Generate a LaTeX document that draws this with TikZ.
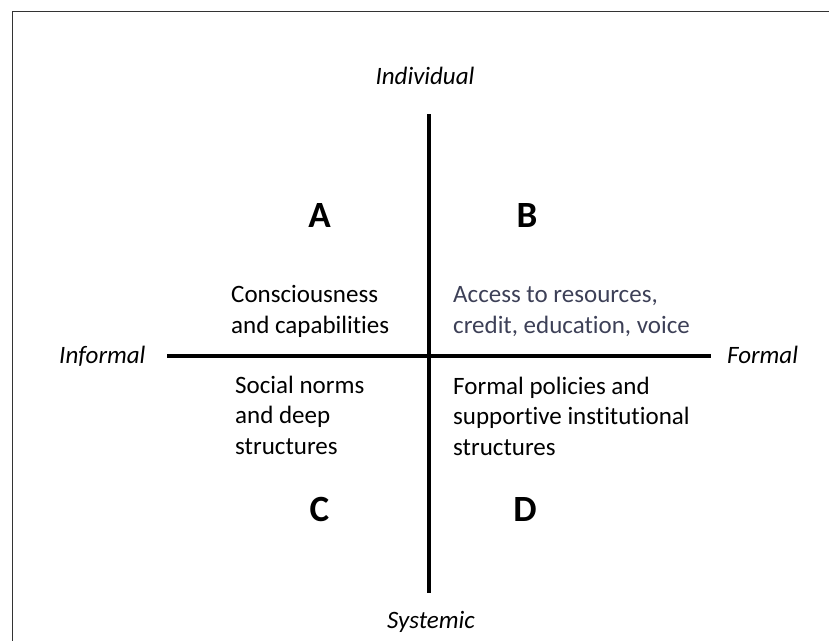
\documentclass[tikz,border=0pt]{standalone}
\usepackage{fontspec}
\setmainfont{Carlito}[Ligatures={NoCommon,NoContextual}]
\definecolor{slatetext}{HTML}{3D4057}
\definecolor{framegray}{HTML}{333333}
\begin{document}
\begin{tikzpicture}[x=1pt,y=-1pt,
  axis/.style={line width=4.5pt},
  body/.style={font=\fontsize{25}{30.3}\selectfont, align=left, inner sep=0pt, anchor=base west},
  axlabel/.style={font=\fontsize{25}{30}\selectfont\itshape, inner sep=0pt},
  quad/.style={font=\fontsize{37}{40}\selectfont\bfseries, inner sep=0pt, anchor=base}]
\useasboundingbox (0,0) rectangle (829,640);
% frame (cropped at right and bottom)
\coordinate (fbl) at (12.5,660);
\coordinate (ftl) at (12.5,11.7);
\coordinate (ftr) at (850,11.7);
\draw[line width=1.3pt, draw=framegray] (fbl) -- (ftl) -- (ftr);
% axes
\coordinate (vtop) at (429,114);
\coordinate (vbot) at (429,593);
\coordinate (hleft) at (167,356);
\coordinate (hright) at (711,356);
\draw[axis] (vtop) -- (vbot);
\draw[axis] (hleft) -- (hright);
% axis labels
\node[axlabel, anchor=base] (indiv) at (425,84) {Individual};
\node[axlabel, anchor=base] (syst) at (431,628) {Systemic};
\node[axlabel, anchor=base west] (inf) at (59,363) {Informal};
\node[axlabel, anchor=base west] (form) at (727,363) {Formal};
% quadrant letters
\node[quad] (A) at (319.5,227) {A};
\node[quad] (B) at (527,227) {B};
\node[quad] (C) at (319.5,521) {C};
\node[quad] (D) at (525,521) {D};
% quadrant texts (base anchor = baseline of last line)
\node[body] (ta) at (231,333) {Consciousness\\and capabilities};
\node[body, text=slatetext] (tb) at (453,333) {Access to resources,\\credit, education, voice};
\node[body] (tc) at (235,454) {Social norms\\and deep\\structures};
\node[body] (td) at (453,455) {Formal policies and\\supportive institutional\\structures};
\end{tikzpicture}
\end{document}
